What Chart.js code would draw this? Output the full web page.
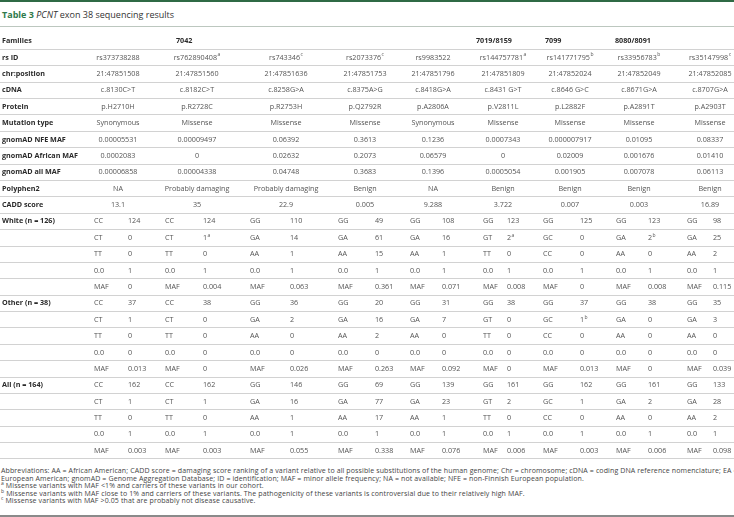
<!DOCTYPE html>
<html lang="en">
<head>
<meta charset="UTF-8">
<meta name="viewport" content="width=device-width, initial-scale=1.0">
<title>PCNT exon 38 sequencing results</title>
<script src="https://cdn.jsdelivr.net/npm/chart.js"></script>
<style>
  body { margin: 0; background: #fff; font-family: "Open Sans", sans-serif; }
  #page { position: relative; width: 734px; height: 517px; overflow: hidden; }
  #topbar { position: absolute; left: 0; top: 0; width: 734px; height: 2px; background: #2f6a45; }
  #title { position: absolute; left: 2px; top: 9px; font-size: 9px; line-height: 12px; color: #333; white-space: nowrap; }
  #title b { color: #2f7a4c; }
  #rule { position: absolute; left: 0; top: 26px; width: 734px; height: 1px; background: #bcc7bf; }
  #wrap { position: absolute; left: 0; top: 33px; width: 734px; height: 426px; }
  #notes { position: absolute; left: 1px; top: 467px; width: 733px; font-size: 7px; letter-spacing: 0.12px; line-height: 7.5px; color: #444; white-space: nowrap; }
  #notes sup { font-size: 5px; line-height: 0; }
  #bottombar { position: absolute; left: 0; top: 515px; width: 734px; height: 2px; background: #8a8a8a; }
</style>
</head>
<body>
<div id="page">
  <div id="topbar"></div>
  <div id="title"><b>Table 3</b> <i>PCNT</i> exon 38 sequencing results</div>
  <div id="rule"></div>
  <div id="wrap"><canvas id="tableChart"></canvas></div>
  <div id="notes">
    Abbreviations: AA = African American; CADD score = damaging score ranking of a variant relative to all possible substitutions of the human genome; Chr = chromosome; cDNA = coding DNA reference nomenclature; EA =<br>
    European American; gnomAD = Genome Aggregation Database; ID = identification; MAF = minor allele frequency; NA = not available; NFE = non-Finnish European population.<br>
    <sup>a</sup> Missense variants with MAF &lt;1% and carriers of these variants in our cohort.<br>
    <sup>b</sup> Missense variants with MAF close to 1% and carriers of these variants. The pathogenicity of these variants is controversial due to their relatively high MAF.<br>
    <sup>c</sup> Missense variants with MAF &gt;0.05 that are probably not disease causative.
  </div>
  <div id="bottombar"></div>
</div>

<script>
// row labels (y categories)
const rowLabels = ['Families', 'rs ID', 'chr:position', 'cDNA', 'Protein', 'Mutation type',
  'gnomAD NFE MAF', 'gnomAD African MAF', 'gnomAD all MAF', 'Polyphen2', 'CADD score',
  'White (n = 126)', '', '', '', '',
  'Other (n = 38)', '', '', '', '',
  'All (n = 164)', '', '', '', ''];

const families = ['7042', '7019/8159', '7099', '8080/8091'];

// one entry per variant
const rsIds = ['rs373738288', 'rs762890408', 'rs743346', 'rs2073376', 'rs9983522', 'rs144757781', 'rs141771795', 'rs33956783', 'rs35147998'];
const rsNotes = ['', 'a', 'c', 'c', '', 'a', 'b', 'b', 'c'];
const chrPos = ['21:47851508', '21:47851560', '21:47851636', '21:47851753', '21:47851796', '21:47851809', '21:47852024', '21:47852049', '21:47852085'];
const cDNA = ['c.8130C>T', 'c.8182C>T', 'c.8258G>A', 'c.8375A>G', 'c.8418G>A', 'c.8431 G>T', 'c.8646 G>C', 'c.8671G>A', 'c.8707G>A'];
const protein = ['p.H2710H', 'p.R2728C', 'p.R2753H', 'p.Q2792R', 'p.A2806A', 'p.V2811L', 'p.L2882F', 'p.A2891T', 'p.A2903T'];
const mutationType = ['Synonymous', 'Missense', 'Missense', 'Missense', 'Synonymous', 'Missense', 'Missense', 'Missense', 'Missense'];
const nfeMaf = ['0.00005531', '0.00009497', '0.06392', '0.3613', '0.1236', '0.0007343', '0.000007917', '0.01095', '0.08337'];
const africanMaf = ['0.0002083', '0', '0.02632', '0.2073', '0.06579', '0', '0.02009', '0.001676', '0.01410'];
const allMaf = ['0.00006858', '0.00004338', '0.04748', '0.3683', '0.1396', '0.0005054', '0.001905', '0.007078', '0.06113'];
const polyphen = ['NA', 'Probably damaging', 'Probably damaging', 'Benign', 'NA', 'Benign', 'Benign', 'Benign', 'Benign'];
const cadd = ['13.1', '35', '22.9', '0.005', '9.288', '3.722', '0.007', '0.003', '16.89'];

// genotypes
const genoRef = ['CC', 'CC', 'GG', 'GG', 'GG', 'GG', 'GG', 'GG', 'GG'];
const genoHet = ['CT', 'CT', 'GA', 'GA', 'GA', 'GT', 'GC', 'GA', 'GA'];
const genoAlt = ['TT', 'TT', 'AA', 'AA', 'AA', 'TT', 'CC', 'AA', 'AA'];

// White (n = 126)
const whiteRef = [124, 124, 110, 49, 108, 123, 125, 123, 98];
const whiteHet = [0, 1, 14, 61, 16, 2, 0, 2, 25];
const whiteHetNotes = ['', 'a', '', '', '', 'a', '', 'b', ''];
const whiteAlt = [0, 0, 1, 15, 1, 0, 0, 0, 2];
const whiteZero = [1, 1, 1, 1, 1, 1, 1, 1, 1];
const whiteMaf = ['0', '0.004', '0.063', '0.361', '0.071', '0.008', '0', '0.008', '0.115'];

// Other (n = 38)
const otherRef = [37, 38, 36, 20, 31, 38, 37, 38, 35];
const otherHet = [1, 0, 2, 16, 7, 0, 1, 0, 3];
const otherHetNotes = ['', '', '', '', '', '', 'b', '', ''];
const otherAlt = [0, 0, 0, 2, 0, 0, 0, 0, 0];
const otherZero = [0, 0, 0, 0, 0, 0, 0, 0, 0];
const otherMaf = ['0.013', '0', '0.026', '0.263', '0.092', '0', '0.013', '0', '0.039'];

// All (n = 164)
const allRef = [162, 162, 146, 69, 139, 161, 162, 161, 133];
const allHet = [1, 1, 16, 77, 23, 2, 1, 2, 28];
const allHetNotes = ['', '', '', '', '', '', '', '', ''];
const allAlt = [0, 0, 1, 17, 1, 0, 0, 0, 2];
const allZero = [1, 1, 1, 1, 1, 1, 1, 1, 1];
const allMafPop = ['0.003', '0.003', '0.055', '0.338', '0.076', '0.006', '0.003', '0.006', '0.098'];

// layout (x positions on the 0..734 x scale)
const labelX = 2;
const familyX = [176, 476, 545, 615];
const centerX = [118, 197, 286, 365, 433, 503, 570, 639, 710];
const genoX = [94, 165, 250, 338, 410, 483, 543, 616, 687];
const countX = [128, 203, 290, 375, 442, 507, 580, 648, 713];

const FONT = '7.2px "Open Sans"';
const BOLD = 'bold 7.2px "Open Sans"';
const SUP = '5px "Open Sans"';
const TEXT = '#555';
const DARK = '#2a2a2a';

function cell(ctx, text, px, py, align, font, color, note) {
    ctx.font = font;
    ctx.fillStyle = color;
    ctx.textAlign = 'left';
    const w = ctx.measureText(text).width;
    let nw = 0;
    if (note) {
        ctx.font = SUP;
        nw = ctx.measureText(note).width + 0.5;
        ctx.font = font;
    }
    const left = align === 'center' ? px - (w + nw) / 2 : px;
    ctx.fillText(text, left, py);
    if (note) {
        ctx.font = SUP;
        ctx.fillText(note, left + w + 0.5, py - 2.5);
    }
}

const tableText = {
    id: 'tableText',
    afterDraw(chart) {
        const { ctx, scales: { x, y } } = chart;
        ctx.save();
        ctx.textBaseline = 'middle';

        rowLabels.forEach((lab, r) => {
            if (lab) cell(ctx, lab, x.getPixelForValue(labelX), y.getPixelForValue(r), 'left', BOLD, DARK);
        });
        families.forEach((f, i) => {
            cell(ctx, f, x.getPixelForValue(familyX[i]), y.getPixelForValue(0), 'left', BOLD, DARK);
        });

        const single = [rsIds, chrPos, cDNA, protein, mutationType, nfeMaf, africanMaf, allMaf, polyphen, cadd];
        single.forEach((arr, k) => {
            arr.forEach((v, i) => {
                cell(ctx, v, x.getPixelForValue(centerX[i]), y.getPixelForValue(k + 1), 'center', FONT, TEXT,
                    k === 0 ? rsNotes[i] : '');
            });
        });

        const blocks = [
            [whiteRef, whiteHet, whiteHetNotes, whiteAlt, whiteZero, whiteMaf],
            [otherRef, otherHet, otherHetNotes, otherAlt, otherZero, otherMaf],
            [allRef, allHet, allHetNotes, allAlt, allZero, allMafPop]
        ];
        blocks.forEach(([ref, het, hetNotes, alt, zero, maf], b) => {
            const r0 = 11 + b * 5;
            for (let i = 0; i < 9; i++) {
                const gx = x.getPixelForValue(genoX[i]);
                const cx = x.getPixelForValue(countX[i]);
                const rows = [
                    [genoRef[i], String(ref[i]), ''],
                    [genoHet[i], String(het[i]), hetNotes[i]],
                    [genoAlt[i], String(alt[i]), ''],
                    ['0.0', String(zero[i]), ''],
                    ['MAF', maf[i], '']
                ];
                rows.forEach(([g, c, n], j) => {
                    const py = y.getPixelForValue(r0 + j);
                    cell(ctx, g, gx, py, 'left', FONT, TEXT);
                    cell(ctx, c, cx, py, 'left', FONT, TEXT, n);
                });
            }
        });
        ctx.restore();
    }
};

const ctx = document.getElementById('tableChart').getContext('2d');
new Chart(ctx, {
    type: 'scatter',
    data: { datasets: [] },
    options: {
        responsive: true,
        maintainAspectRatio: false,
        animation: false,
        layout: { padding: 0 },
        plugins: { legend: { display: false }, tooltip: { enabled: false } },
        scales: {
            x: { type: 'linear', min: 0, max: 734, display: false },
            y: {
                type: 'category',
                labels: rowLabels,
                offset: true,
                border: { display: false },
                grid: {
                    offset: true,
                    drawTicks: false,
                    lineWidth: 1,
                    color: c => c.index === 0 ? 'rgba(0,0,0,0)' : '#d2d2d2'
                },
                ticks: { display: false },
                afterFit: s => { s.width = 0; }
            }
        }
    },
    plugins: [tableText]
});
</script>
</body>
</html>
